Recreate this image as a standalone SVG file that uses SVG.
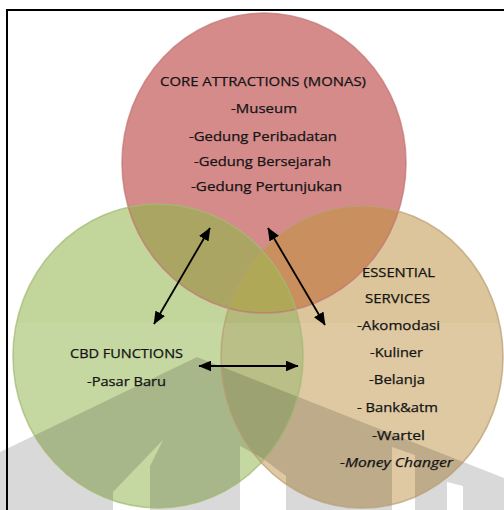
<svg xmlns="http://www.w3.org/2000/svg" width="504" height="510" viewBox="0 0 504 510">
  <style>
    .lbl { font-family: "Open Sans", "Liberation Sans", sans-serif; font-size: 12.5px; fill: #141414; stroke: #141414; stroke-width: 0.25; }
    .it { font-style: italic; }
    .edge { fill: none; stroke-width: 1.6; }
    .conn { stroke: #000; stroke-width: 1.8; fill: none; marker-start: url(#ah); marker-end: url(#ah); }
  </style>
  <defs>
    <clipPath id="cRed"><ellipse cx="264" cy="163" rx="142" ry="150"/></clipPath>
    <clipPath id="cGreen"><ellipse cx="158" cy="356" rx="145" ry="152"/></clipPath>
    <clipPath id="cOrange"><ellipse cx="362" cy="357" rx="141" ry="151"/></clipPath>
    <marker id="ah" viewBox="0 0 10 10" refX="9.5" refY="5" markerUnits="userSpaceOnUse" markerWidth="13" markerHeight="11" orient="auto-start-reverse" preserveAspectRatio="none">
      <path d="M0,0 L10,5 L0,10 Z" fill="#000"/>
    </marker>
  </defs>

  <rect x="0" y="0" width="504" height="510" fill="#fff"/>

  <g id="fills">
    <ellipse cx="264" cy="163" rx="142" ry="150" fill="#d68b8b"/>
    <ellipse cx="158" cy="356" rx="145" ry="152" fill="#c2d59a"/>
    <ellipse cx="362" cy="357" rx="141" ry="151" fill="#ddc59b"/>
  </g>

  <g id="overlaps">
    <ellipse cx="158" cy="356" rx="145" ry="152" fill="#aba563" clip-path="url(#cRed)"/>
    <ellipse cx="362" cy="357" rx="141" ry="151" fill="#c98f5f" clip-path="url(#cRed)"/>
    <ellipse cx="362" cy="357" rx="141" ry="151" fill="#b3ba7c" clip-path="url(#cGreen)"/>
    <g clip-path="url(#cOrange)">
      <ellipse cx="158" cy="356" rx="145" ry="152" fill="#afa957" clip-path="url(#cRed)"/>
    </g>
  </g>

  <rect x="0" y="323" width="504" height="187" fill="#fff" opacity="0.08"/>

  <path id="watermark" fill="#000" opacity="0.15" fill-rule="evenodd" d="M0,452 L197,357 L504,478 L504,510 L0,510 Z M113,510 L113,492 L163,440 L150,466 L150,510 Z M240,510 L240,446 L262,458 L286,476 L286,510 Z M392,510 L392,447 L415,455 L415,510 Z M447,510 L447,482 L463,486 L463,510 Z"/>

  <g id="core-attractions">
    <ellipse class="edge" cx="264" cy="163" rx="142" ry="150" stroke="#c27474" opacity="0.7"/>
    <text class="lbl" x="160" y="86" textLength="206" lengthAdjust="spacingAndGlyphs">CORE ATTRACTIONS (MONAS)</text>
    <text class="lbl" x="231" y="113" textLength="66" lengthAdjust="spacingAndGlyphs">-Museum</text>
    <text class="lbl" x="189" y="141" textLength="148" lengthAdjust="spacingAndGlyphs">-Gedung Peribadatan</text>
    <text class="lbl" x="194" y="166" textLength="137" lengthAdjust="spacingAndGlyphs">-Gedung Bersejarah</text>
    <text class="lbl" x="191" y="191" textLength="151" lengthAdjust="spacingAndGlyphs">-Gedung Pertunjukan</text>
  </g>

  <g id="cbd-functions">
    <ellipse class="edge" cx="158" cy="356" rx="145" ry="152" stroke="#a3b872" opacity="0.7"/>
    <text class="lbl" x="70" y="358" textLength="113" lengthAdjust="spacingAndGlyphs">CBD FUNCTIONS</text>
    <text class="lbl" x="87" y="386" textLength="79" lengthAdjust="spacingAndGlyphs">-Pasar Baru</text>
  </g>

  <g id="essential-services">
    <ellipse class="edge" cx="362" cy="357" rx="141" ry="151" stroke="#b89c72" opacity="0.7"/>
    <text class="lbl" x="362" y="277" textLength="73" lengthAdjust="spacingAndGlyphs">ESSENTIAL</text>
    <text class="lbl" x="365" y="303" textLength="65" lengthAdjust="spacingAndGlyphs">SERVICES</text>
    <text class="lbl" x="357" y="330" textLength="83" lengthAdjust="spacingAndGlyphs">-Akomodasi</text>
    <text class="lbl" x="370" y="357" textLength="53" lengthAdjust="spacingAndGlyphs">-Kuliner</text>
    <text class="lbl" x="369" y="384" textLength="56" lengthAdjust="spacingAndGlyphs">-Belanja</text>
    <text class="lbl" x="357" y="412" textLength="81" lengthAdjust="spacingAndGlyphs">- Bank&amp;atm</text>
    <text class="lbl" x="372" y="440" textLength="53" lengthAdjust="spacingAndGlyphs">-Wartel</text>
    <text class="lbl it" x="340" y="467" textLength="113" lengthAdjust="spacingAndGlyphs">-Money Changer</text>
  </g>

  <g id="connectors">
    <line class="conn" x1="210" y1="228" x2="154" y2="324"/>
    <line class="conn" x1="268" y1="228" x2="325" y2="325"/>
    <line class="conn" x1="199" y1="366" x2="298" y2="366"/>
  </g>

  <rect id="frame" x="7" y="10" width="520" height="520" fill="none" stroke="#000" stroke-width="2"/>
</svg>
